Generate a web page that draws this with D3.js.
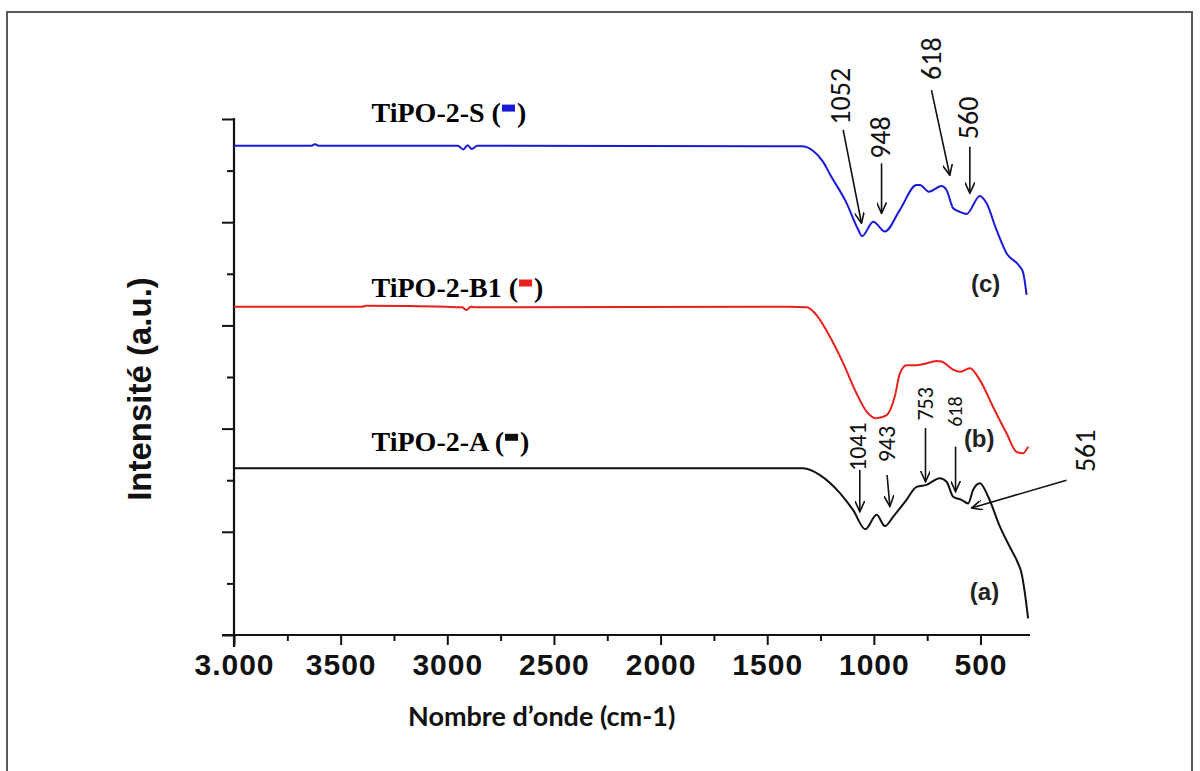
<!DOCTYPE html>
<html>
<head>
<meta charset="utf-8">
<script src="https://cdn.jsdelivr.net/npm/d3@7"></script>
<style>
body { margin: 0; background: #fff; }
</style>
</head>
<body>
<div id="chart"></div>
<script>
// wavenumber (cm-1) / intensity (a.u.)
var waveS = [4000, 3640, 3620, 3600, 2950, 2925, 2905, 2885, 2860, 1340, 1284, 1238, 1206, 1128, 1075, 1055, 1003, 948, 878, 800, 784, 742, 683, 659, 628, 597, 565, 503, 472, 425, 378, 316, 300, 284];
var intS  = [9.48, 9.48, 9.51, 9.48, 9.48, 9.41, 9.49, 9.42, 9.48, 9.47, 9.38, 9.17, 8.93, 8.37, 7.87, 7.73, 8.01, 7.82, 8.24, 8.72, 8.72, 8.59, 8.70, 8.62, 8.27, 8.20, 8.16, 8.51, 8.37, 7.85, 7.40, 7.14, 7.02, 6.59];

var waveB1 = [4000, 3400, 3380, 3000, 2930, 2910, 2890, 2870, 1400, 1315, 1269, 1206, 1144, 1081, 1034, 987, 940, 902, 878, 847, 800, 769, 706, 683, 628, 597, 550, 503, 441, 378, 331, 300, 277];
var intB1  = [6.36, 6.36, 6.38, 6.36, 6.35, 6.30, 6.36, 6.35, 6.36, 6.35, 6.20, 5.78, 5.27, 4.68, 4.33, 4.20, 4.26, 4.62, 5.07, 5.23, 5.23, 5.25, 5.31, 5.30, 5.14, 5.10, 5.17, 4.94, 4.42, 3.91, 3.55, 3.52, 3.65];

var waveA = [4000, 1331, 1253, 1159, 1097, 1040, 987, 948, 910, 847, 800, 753, 691, 659, 628, 589, 558, 535, 503, 464, 409, 363, 324, 308, 292, 277];
var intA  = [3.23, 3.23, 3.10, 2.75, 2.42, 2.05, 2.33, 2.11, 2.29, 2.62, 2.87, 2.91, 3.04, 2.97, 2.68, 2.62, 2.55, 2.81, 2.94, 2.68, 2.10, 1.71, 1.39, 1.20, 0.81, 0.32];

var seriesNames = ["TiPO-2-S", "TiPO-2-B1", "TiPO-2-A"];
var seriesTags = ["(c)", "(b)", "(a)"];
var seriesColors = ["#1a1ad6", "#e8201c", "#111111"];

// band labels: text, arrow tail, arrow tip (wavenumber, intensity)
var bandLabels   = ["1052", "948", "618", "560", "1041", "943", "753", "618", "561"];
var bandTextWave = [1155, 967, 728, 557, 1075, 939, 756, 620, 6];
var bandTextInt  = [10.44, 9.64, 11.17, 10.02, 3.65, 3.70, 4.48, 4.33, 3.57];
var bandTailWave = [1144, 964, 730, 550, 1066, 938, 758, 617, 97];
var bandTailInt  = [9.79, 9.14, 10.56, 9.46, 3.20, 3.10, 4.01, 3.65, 3.00];
var bandTipWave  = [1058, 964, 644, 550, 1066, 925, 758, 617, 542];
var bandTipInt   = [7.98, 8.17, 8.91, 8.56, 2.39, 2.49, 2.97, 2.78, 2.46];
var bandFont     = [28, 28, 28, 28, 24, 24, 22, 20, 28];

var xMajor = [4000, 3500, 3000, 2500, 2000, 1500, 1000, 500];
var xTickLabels = ["3.000", "3500", "3000", "2500", "2000", "1500", "1000", "500"];
var xMinor = [3750, 3250, 2750, 2250, 1750, 1250, 750];
var yMajor = [0, 2, 4, 6, 8, 10];
var yMinor = [1, 3, 5, 7, 9];

var width = 1200, height = 771;

var svg = d3.select("#chart").append("svg")
    .attr("width", width)
    .attr("height", height)
    .style("display", "block");

// outer frame
svg.append("rect")
    .attr("x", 7).attr("y", 12)
    .attr("width", 1185).attr("height", 780)
    .attr("fill", "none")
    .attr("stroke", "#5a5a5a")
    .attr("stroke-width", 2);

var x = d3.scaleLinear().domain([4000, 268]).range([234, 1030]);
var y = d3.scaleLinear().domain([0, 10]).range([635, 119]);

// axes
var xAxis = svg.append("g").attr("transform", "translate(0," + y(0) + ")")
    .call(d3.axisBottom(x).tickValues(xMajor).tickSize(10).tickPadding(9)
        .tickFormat(function (d, i) { return xTickLabels[i]; }));
svg.append("g").attr("transform", "translate(0," + y(0) + ")")
    .call(d3.axisBottom(x).tickValues(xMinor).tickSize(6).tickFormat(""));
svg.append("g").attr("transform", "translate(" + x(4000) + ",0)")
    .call(d3.axisLeft(y).tickValues(yMajor).tickSize(12).tickFormat(""));
svg.append("g").attr("transform", "translate(" + x(4000) + ",0)")
    .call(d3.axisLeft(y).tickValues(yMinor).tickSize(7).tickFormat(""));

svg.selectAll(".domain").remove();
svg.selectAll(".tick line").attr("stroke", "#111").attr("stroke-width", 2);
xAxis.selectAll(".tick text")
    .attr("fill", "#111")
    .style("font-family", "'Liberation Sans', Arial, sans-serif")
    .style("font-weight", "bold")
    .style("font-size", "30px")
    .style("letter-spacing", "1px");

// axis lines (they cross at the corner)
svg.append("line")
    .attr("x1", x(4000) - 12).attr("x2", x(268))
    .attr("y1", y(0)).attr("y2", y(0))
    .attr("stroke", "#111").attr("stroke-width", 2.2);
svg.append("line")
    .attr("x1", x(4000)).attr("x2", x(4000))
    .attr("y1", y(10) - 1).attr("y2", y(0) + 12)
    .attr("stroke", "#111").attr("stroke-width", 2.2);

// spectra
var line = d3.line()
    .x(function (d) { return x(d[0]); })
    .y(function (d) { return y(d[1]); })
    .curve(d3.curveMonotoneX);

var spectra = [d3.zip(waveS, intS), d3.zip(waveB1, intB1), d3.zip(waveA, intA)];

svg.selectAll(".spectrum")
    .data(spectra)
    .enter()
    .append("path")
    .attr("class", "spectrum")
    .attr("d", line)
    .attr("fill", "none")
    .attr("stroke", function (d, i) { return seriesColors[i]; })
    .attr("stroke-width", 2);

// series names with small colour key
var nameWave = 3355;
var nameInt = [9.95, 6.56, 3.57];
seriesNames.forEach(function (name, i) {
    var bx = x(nameWave), by = y(nameInt[i]);
    var t = svg.append("text")
        .attr("x", bx).attr("y", by)
        .style("font-family", "'Liberation Serif', 'Times New Roman', serif")
        .style("font-weight", "bold")
        .style("font-size", "28px")
        .text(name + " (");
    var w = t.node().getComputedTextLength();
    svg.append("rect")
        .attr("x", bx + w + 1).attr("y", by - 17)
        .attr("width", 13).attr("height", 7)
        .attr("fill", seriesColors[i]);
    svg.append("text")
        .attr("x", bx + w + 16).attr("y", by)
        .style("font-family", "'Liberation Serif', 'Times New Roman', serif")
        .style("font-weight", "bold")
        .style("font-size", "28px")
        .text(")");
});

// (a) (b) (c)
var tagWave = [545, 578, 550];
var tagInt = [6.65, 3.64, 0.68];
svg.selectAll(".tag")
    .data(seriesTags)
    .enter()
    .append("text")
    .attr("class", "tag")
    .attr("x", function (d, i) { return x(tagWave[i]); })
    .attr("y", function (d, i) { return y(tagInt[i]); })
    .attr("fill", "#222")
    .style("font-family", "'Liberation Sans', Arial, sans-serif")
    .style("font-weight", "bold")
    .style("font-size", "24px")
    .text(function (d) { return d; });

// band arrows
svg.append("defs").append("marker")
    .attr("id", "head")
    .attr("markerUnits", "userSpaceOnUse")
    .attr("viewBox", "0 0 12 10")
    .attr("refX", 11).attr("refY", 5)
    .attr("markerWidth", 12).attr("markerHeight", 10)
    .attr("orient", "auto")
    .append("path")
    .attr("d", "M0,0 L11,5 L0,10")
    .attr("fill", "none")
    .attr("stroke", "#111")
    .attr("stroke-width", 1.6);

bandLabels.forEach(function (lab, i) {
    svg.append("line")
        .attr("x1", x(bandTailWave[i])).attr("y1", y(bandTailInt[i]))
        .attr("x2", x(bandTipWave[i])).attr("y2", y(bandTipInt[i]))
        .attr("stroke", "#111")
        .attr("stroke-width", 1.6)
        .attr("marker-end", "url(#head)");
    svg.append("text")
        .attr("transform", "translate(" + x(bandTextWave[i]) + "," + y(bandTextInt[i]) + ") rotate(-90)")
        .attr("text-anchor", "middle")
        .attr("dominant-baseline", "central")
        .attr("fill", "#111")
        .style("font-family", "Calibri, Carlito, Lato, sans-serif")
        .style("font-size", bandFont[i] + "px")
        .text(lab);
});

// axis titles
svg.append("text")
    .attr("transform", "translate(151,389) rotate(-90)")
    .attr("text-anchor", "middle")
    .attr("fill", "#111")
    .style("font-family", "'Liberation Sans', Arial, sans-serif")
    .style("font-weight", "bold")
    .style("font-size", "33px")
    .text("Intensité  (a.u.)");

svg.append("text")
    .attr("x", 408).attr("y", 726)
    .attr("fill", "#111")
    .style("font-family", "Lato, Calibri, sans-serif")
    .style("font-weight", "bold")
    .style("font-size", "27px")
    .text("Nombre d’onde (cm-1)");
</script>
</body>
</html>
